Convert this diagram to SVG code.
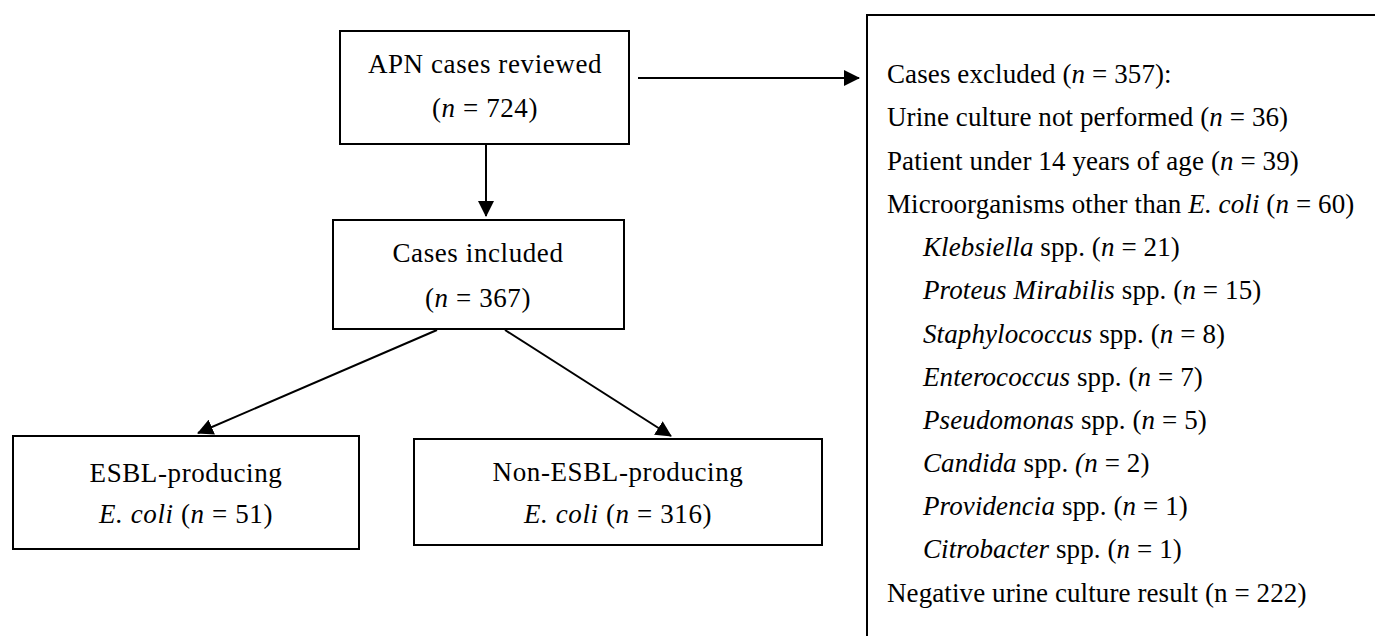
<svg xmlns="http://www.w3.org/2000/svg" width="1375" height="636" viewBox="0 0 1375 636">
  <style>
    .box { fill: #fff; stroke: #000; stroke-width: 2; }
    .link { fill: none; stroke: #000; stroke-width: 2; }
    text { font-family: "Liberation Serif", "Times New Roman", serif; font-size: 27px; letter-spacing: 0.1px; fill: #000; }
    .c { text-anchor: middle; letter-spacing: 0.6px; }
    .i { font-style: italic; }
  </style>
  <defs>
    <marker id="arrow" viewBox="0 0 16 16" refX="15" refY="8" markerWidth="16" markerHeight="16" markerUnits="userSpaceOnUse" orient="auto">
      <path d="M0,0 L16,8 L0,16 Z" fill="#000"/>
    </marker>
  </defs>
  <rect width="1375" height="636" fill="#fff"/>

  <g id="connectors">
    <line class="link" x1="486" y1="145" x2="486" y2="216" marker-end="url(#arrow)"/>
    <line class="link" x1="638" y1="78" x2="859" y2="78" marker-end="url(#arrow)"/>
    <line class="link" x1="437" y1="330" x2="198" y2="433" marker-end="url(#arrow)"/>
    <line class="link" x1="505" y1="330" x2="671" y2="436" marker-end="url(#arrow)"/>
  </g>

  <g id="reviewed">
    <rect class="box" x="340" y="31" width="289" height="113"/>
    <text class="c" x="485" y="73">APN cases reviewed</text>
    <text class="c" x="485" y="117">(<tspan class="i">n</tspan> = 724)</text>
  </g>

  <g id="included">
    <rect class="box" x="333" y="220" width="291" height="109"/>
    <text class="c" x="478" y="262">Cases included</text>
    <text class="c" x="478" y="307">(<tspan class="i">n</tspan> = 367)</text>
  </g>

  <g id="esbl">
    <rect class="box" x="13" y="436" width="346" height="113"/>
    <text class="c" x="186" y="482">ESBL-producing</text>
    <text class="c" x="186" y="523"><tspan class="i">E. coli</tspan> (<tspan class="i">n</tspan> = 51)</text>
  </g>

  <g id="non-esbl">
    <rect class="box" x="414" y="439" width="408" height="106"/>
    <text class="c" x="618" y="481">Non-ESBL-producing</text>
    <text class="c" x="618" y="523"><tspan class="i">E. coli</tspan> (<tspan class="i">n</tspan> = 316)</text>
  </g>

  <g id="excluded">
    <rect class="box" x="867" y="15" width="520" height="630"/>
    <text x="887" y="83">Cases excluded (<tspan class="i">n</tspan> = 357):</text>
    <text x="887" y="126">Urine culture not performed (<tspan class="i">n</tspan> = 36)</text>
    <text x="887" y="170">Patient under 14 years of age (<tspan class="i">n</tspan> = 39)</text>
    <text x="887" y="213">Microorganisms other than <tspan class="i">E. coli</tspan> (<tspan class="i">n</tspan> = 60)</text>
    <text x="923" y="256"><tspan class="i">Klebsiella</tspan> spp. (<tspan class="i">n</tspan> = 21)</text>
    <text x="923" y="299"><tspan class="i">Proteus Mirabilis</tspan> spp. (<tspan class="i">n</tspan> = 15)</text>
    <text x="923" y="343"><tspan class="i">Staphylococcus</tspan> spp. (<tspan class="i">n</tspan> = 8)</text>
    <text x="923" y="386"><tspan class="i">Enterococcus</tspan> spp. (<tspan class="i">n</tspan> = 7)</text>
    <text x="923" y="429"><tspan class="i">Pseudomonas</tspan> spp. (<tspan class="i">n</tspan> = 5)</text>
    <text x="923" y="472"><tspan class="i">Candida</tspan> spp. <tspan class="i">(n</tspan> = 2)</text>
    <text x="923" y="515"><tspan class="i">Providencia</tspan> spp. (<tspan class="i">n</tspan> = 1)</text>
    <text x="923" y="558"><tspan class="i">Citrobacter</tspan> spp. (<tspan class="i">n</tspan> = 1)</text>
    <text x="887" y="602">Negative urine culture result (n = 222)</text>
  </g>
</svg>
